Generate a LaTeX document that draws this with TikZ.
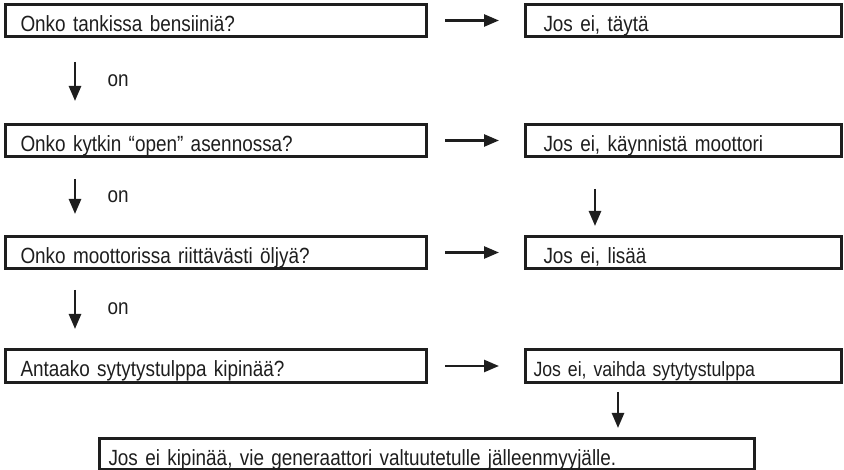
\documentclass[tikz,border=0pt]{standalone}
\usepackage{fontspec}
\setmainfont{Liberation Sans}[FakeStretch=0.86]
\usetikzlibrary{arrows.meta}
\definecolor{ink}{RGB}{30,30,30}
\tikzset{
  box/.style={draw=ink, text=ink, line width=3pt, anchor=north west, align=left,
    text height=22pt, text depth=0pt, minimum height=32pt, inner ysep=0pt,
    font=\fontsize{22}{26}\selectfont},
  lbox/.style={box, text width=391pt, inner xsep=15pt},
  rbox/.style={box, text width=280pt, inner xsep=18pt},
  arr/.style={draw=ink, line width=2.5pt, -{Triangle[length=15pt,width=12pt]}},
  harr/.style={arr, shorten <=17pt, shorten >=25pt},
  onlbl/.style={anchor=west, xshift=28pt, text=ink, font=\fontsize{22}{26}\selectfont}
}
\begin{document}
\begin{tikzpicture}[x=1pt,y=-1pt]
\useasboundingbox (0,0) rectangle (844,470);
\node[lbox] (l1) at (4,3) {Onko tankissa bensiiniä?};
\node[lbox] (l2) at (4,123) {Onko kytkin “open” asennossa?};
\node[lbox] (l3) at (4,235) {Onko moottorissa riittävästi öljyä?};
\node[lbox, minimum height=33pt] (l4) at (4,348) {Antaako sytytystulppa kipinää?};
\node[rbox] (r1) at (524,3) {Jos ei, täytä};
\node[rbox] (r2) at (524,123) {Jos ei, käynnistä moottori};
\node[rbox] (r3) at (524,235) {Jos ei, lisää};
\node[box, text width=300pt, inner xsep=8pt, minimum height=33pt, font=\fontsize{20.6}{24}\selectfont] (r4) at (524,348) {Jos ei, vaihda sytytystulppa};
\node[box, text width=637pt, inner xsep=9pt, minimum height=31pt] (b) at (98,437) {Jos ei kipinää, vie generaattori valtuutetulle jälleenmyyjälle.};
\draw[harr] (l1.east) -- (r1.west);
\draw[harr] (l2.east) -- (r2.west);
\draw[harr] (l3.east) -- (r3.west);
\draw[harr] (l4.east) -- (r4.west);
\draw[arr, shorten <=24pt, shorten >=22pt] ([xshift=71pt]l1.south west) -- node[onlbl] (o1) {on} ([xshift=71pt]l2.north west);
\draw[arr, shorten <=21pt, shorten >=21pt] ([xshift=71pt]l2.south west) -- node[onlbl] (o2) {on} ([xshift=71pt]l3.north west);
\draw[arr, shorten <=20pt, shorten >=19pt] ([xshift=71pt]l3.south west) -- node[onlbl] (o3) {on} ([xshift=71pt]l4.north west);
\draw[arr, shorten <=31pt, shorten >=9pt] ([xshift=71pt]r2.south west) -- ([xshift=71pt]r3.north west);
\draw[arr, shorten <=8pt, shorten >=9pt] ([xshift=94pt]r4.south west) -- ([xshift=520pt]b.north west);
\end{tikzpicture}
\end{document}
